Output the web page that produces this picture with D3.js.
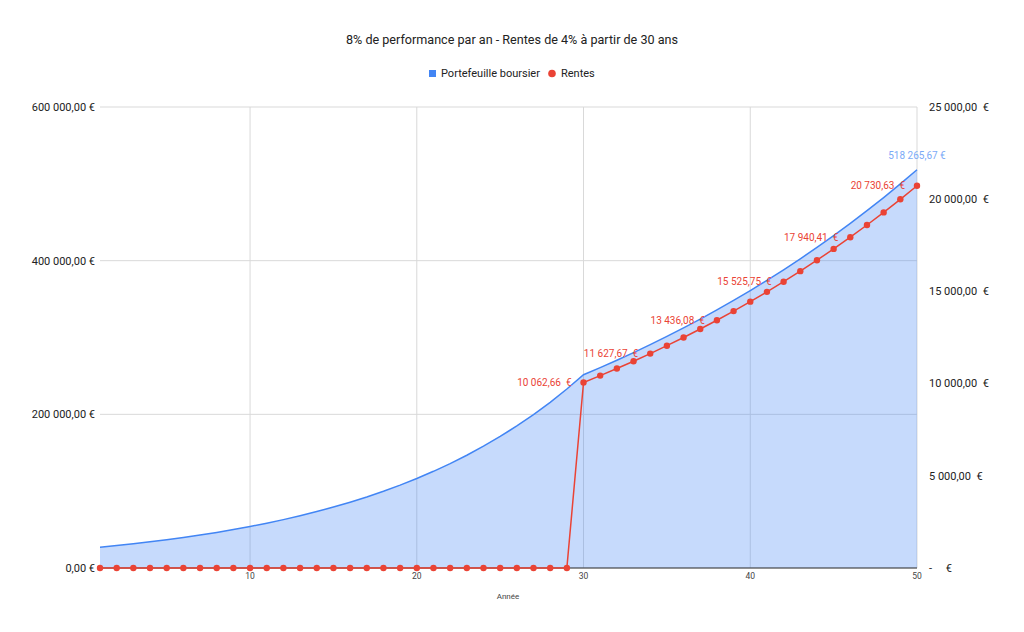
<!DOCTYPE html>
<html><head><meta charset="utf-8">
<script src="https://cdn.jsdelivr.net/npm/d3@7"></script>
<style>
body{margin:0;background:#fff;}
text{font-family:Roboto, "Noto Sans", sans-serif;}
</style></head>
<body><svg id="c" width="1024" height="632"></svg>
<script>
const years = d3.range(1, 51);
const portefeuille = [
 27000.00, 29160.00, 31492.80, 34012.22, 36733.20, 39671.86, 42845.61, 46273.26, 49975.12, 53973.13,
 58290.98, 62954.26, 67990.60, 73429.85, 79304.24, 85648.58, 92500.47, 99900.51, 107892.55, 116523.95,
 125845.87, 135913.54, 146786.62, 158529.55, 171211.92, 184908.87, 199701.58, 215677.71, 232931.92, 251566.48,
 260824.13, 270422.46, 280374.01, 290691.77, 301389.23, 312480.35, 323979.63, 335902.08, 348263.28, 361079.37,
 374367.09, 388143.80, 402427.49, 417236.82, 432591.14, 448510.49, 465015.68, 482128.26, 499870.58, 518265.67
];
const rentes = [
 0,0,0,0,0,0,0,0,0,0,
 0,0,0,0,0,0,0,0,0,0,
 0,0,0,0,0,0,0,0,0,10062.66,
 10432.97, 10816.90, 11214.96, 11627.67, 12055.57, 12499.21, 12959.19, 13436.08, 13930.53, 14443.17,
 14974.68, 15525.75, 16097.10, 16689.47, 17303.65, 17940.41, 18600.63, 19285.13, 19994.82, 20730.63
];
const rentesLabelYears = [30, 34, 38, 42, 46, 50];
const leftTicks = [0, 200000, 400000, 600000];
const rightTicks = [0, 5000, 10000, 15000, 20000, 25000];
const xTicks = [10, 20, 30, 40, 50];
const title = "8% de performance par an - Rentes de 4% à partir de 30 ans";
const seriesNames = ["Portefeuille boursier", "Rentes"];

const blue = "#4285f4", red = "#ea4335";
const svg = d3.select("#c");
const x = d3.scaleLinear().domain([1, 50]).range([100, 917]);
const yL = d3.scaleLinear().domain([0, 600000]).range([568, 107]);
const yR = d3.scaleLinear().domain([0, 25000]).range([568, 107]);

const fmt = v => {
  const s = v.toFixed(2).split(".");
  return s[0].replace(/\B(?=(\d{3})+(?!\d))/g, " ") + "," + s[1];
};

// gridlines
const g = svg.append("g");
g.selectAll(".hg").data(leftTicks).join("line")
 .attr("x1", 100).attr("x2", 917).attr("y1", d => yL(d)).attr("y2", d => yL(d))
 .attr("stroke", "#d9d9d9").attr("stroke-width", 1);
g.selectAll(".vg").data(xTicks).join("line")
 .attr("x1", d => x(d)).attr("x2", d => x(d)).attr("y1", 107).attr("y2", 568)
 .attr("stroke", "#d9d9d9").attr("stroke-width", 1);

// area
const data = years.map((yr, i) => ({yr, p: portefeuille[i], r: rentes[i]}));
svg.append("path").datum(data)
 .attr("d", d3.area().x(d => x(d.yr)).y0(yL(0)).y1(d => yL(d.p)))
 .attr("fill", blue).attr("fill-opacity", 0.3);
svg.append("path").datum(data)
 .attr("d", d3.line().x(d => x(d.yr)).y(d => yL(d.p)))
 .attr("fill", "none").attr("stroke", blue).attr("stroke-width", 1.5);

// baseline
svg.append("line").attr("x1", 100).attr("x2", 917).attr("y1", yL(0)).attr("y2", yL(0))
 .attr("stroke", "#333").attr("stroke-width", 1);

// rentes line
svg.append("path").datum(data)
 .attr("d", d3.line().x(d => x(d.yr)).y(d => yR(d.r)))
 .attr("fill", "none").attr("stroke", red).attr("stroke-width", 1.5);
svg.selectAll(".dot").data(data).join("circle")
 .attr("cx", d => x(d.yr)).attr("cy", d => yR(d.r)).attr("r", 3.2).attr("fill", red);

// rentes labels
svg.selectAll(".rl").data(data.filter(d => rentesLabelYears.includes(d.yr))).join("text")
 .attr("x", d => x(d.yr) - 12).attr("y", d => yR(d.r)).attr("dy", "0.35em")
 .attr("text-anchor", "end").attr("font-size", 10).attr("fill", red)
 .style("white-space", "pre")
 .text(d => fmt(d.r) + "  €");

// last portfolio label
const last = data[data.length - 1];
svg.append("text").attr("x", x(last.yr)).attr("y", yL(last.p) - 11)
 .attr("text-anchor", "middle").attr("font-size", 10).attr("fill", "#7baaf7")
 .text(fmt(last.p) + " €");

// left axis labels
svg.selectAll(".lt").data(leftTicks).join("text")
 .attr("x", 95).attr("y", d => yL(d)).attr("dy", "0.35em").attr("text-anchor", "end")
 .attr("font-size", 11).attr("fill", "#222").text(d => fmt(d) + " €");

// right axis labels
svg.selectAll(".rt").data(rightTicks).join("text")
 .attr("x", 929).attr("y", d => yR(d)).attr("dy", "0.35em").attr("text-anchor", "start")
 .attr("font-size", 11).attr("fill", "#222").style("white-space", "pre")
 .text(d => d === 0 ? "-     €" : fmt(d) + "  €");

// x axis labels
svg.selectAll(".xt").data(xTicks).join("text")
 .attr("x", d => x(d)).attr("y", 579).attr("text-anchor", "middle")
 .attr("font-size", 8.5).attr("fill", "#444").text(d => d);
svg.append("text").attr("x", 508).attr("y", 599).attr("text-anchor", "middle")
 .attr("font-size", 8).attr("fill", "#444").text("Année");

// title
svg.append("text").attr("x", 512).attr("y", 44).attr("text-anchor", "middle")
 .attr("font-size", 12.6).attr("fill", "#222").text(title);

// legend
const lg = svg.append("g");
lg.append("rect").attr("x", 429).attr("y", 70).attr("width", 7).attr("height", 7).attr("fill", blue);
lg.append("text").attr("x", 441).attr("y", 73.5).attr("dy", "0.35em").attr("font-size", 11).attr("fill", "#222").text(seriesNames[0]);
lg.append("circle").attr("cx", 552).attr("cy", 73.5).attr("r", 3.8).attr("fill", red);
lg.append("text").attr("x", 561).attr("y", 73.5).attr("dy", "0.35em").attr("font-size", 11).attr("fill", "#222").text(seriesNames[1]);
</script></body></html>
